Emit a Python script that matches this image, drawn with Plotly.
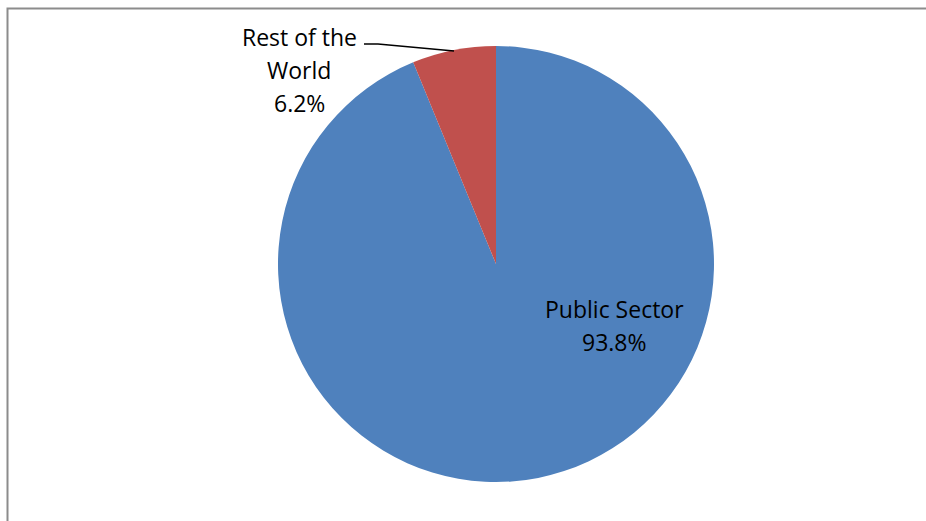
import plotly.graph_objects as go

# Sector shares (percent)
sectors = ["Public Sector", "Rest of the World"]
shares = [93.8, 6.2]
colors = ["#4F81BD", "#C0504D"]

W, H = 926, 521
FONT = "Open Sans"
FS = 23


def px(x):
    return x / W


def py(y):
    return 1 - y / H


fig = go.Figure(
    go.Pie(
        labels=sectors,
        values=shares,
        sort=False,
        direction="clockwise",
        rotation=0,
        marker=dict(colors=colors, line=dict(width=0)),
        textinfo="none",
        hoverinfo="label+percent",
        showlegend=False,
        domain=dict(x=[px(278), px(714)], y=[py(482), py(46)]),
    )
)


def label_lines(name, value):
    if name == "Rest of the World":
        lines = ["Rest of the", "World"]
    else:
        lines = [name]
    return lines + [f"{value:.1f}%"]


annotations = []
# Public Sector: inside the slice
for i, line in enumerate(label_lines(sectors[0], shares[0])):
    annotations.append(dict(x=px(614), y=py(309 + 33 * i), text=line, showarrow=False,
                            xref="paper", yref="paper", xanchor="center", yanchor="middle",
                            font=dict(family=FONT, size=FS, color="black")))
# Rest of the World: outside with a leader line
for i, line in enumerate(label_lines(sectors[1], shares[1])):
    annotations.append(dict(x=px(299), y=py(37 + 33 * i), text=line, showarrow=False,
                            xref="paper", yref="paper", xanchor="center", yanchor="middle",
                            font=dict(family=FONT, size=FS, color="black")))

shapes = [
    # leader line
    dict(type="path", xref="paper", yref="paper",
         path=f"M {px(364)},{py(44)} L {px(378)},{py(44)} L {px(454)},{py(51)}",
         line=dict(color="black", width=1.5)),
    # chart-area border
    dict(type="rect", xref="paper", yref="paper",
         x0=px(7.5), y0=py(530), x1=px(940), y1=py(8.5),
         line=dict(color="#8C8C8C", width=2), fillcolor="rgba(0,0,0,0)", layer="below"),
]

fig.update_layout(
    width=W, height=H,
    margin=dict(l=0, r=0, t=0, b=0),
    paper_bgcolor="white", plot_bgcolor="white",
    annotations=annotations,
    shapes=shapes,
)

fig.write_html("out.html")
